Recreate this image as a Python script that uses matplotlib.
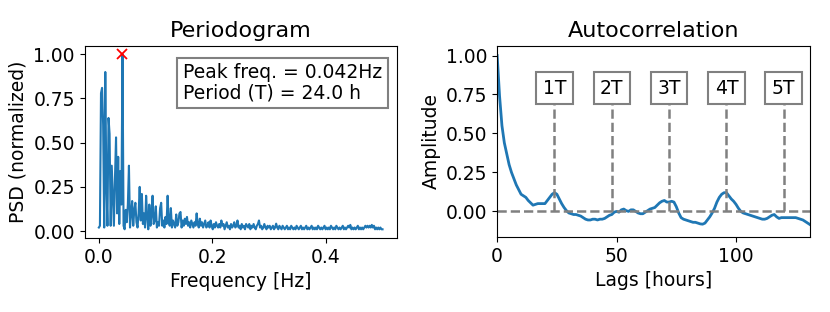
import numpy as np
import matplotlib
matplotlib.use("Agg")
import matplotlib.pyplot as plt

# periodogram: k / 528 Hz, k = 0..264 (hourly samples, 22 days)
n_samples = 528
psd_norm = [
    0.02, 0.03, 0.78, 0.81, 0.60, 0.02, 0.90, 0.25, 0.03, 0.64,
    0.55, 0.03, 0.37, 0.20, 0.03, 0.30, 0.53, 0.10, 0.42, 0.04,
    0.34, 0.15, 1.00, 0.03, 0.01, 0.12, 0.05, 0.15, 0.37, 0.02,
    0.10, 0.17, 0.03, 0.12, 0.16, 0.05, 0.02, 0.10, 0.25, 0.06,
    0.21, 0.04, 0.10, 0.02, 0.20, 0.08, 0.01, 0.15, 0.03, 0.09,
    0.20, 0.04, 0.06, 0.14, 0.02, 0.05, 0.03, 0.13, 0.16, 0.03,
    0.06, 0.02, 0.08, 0.04, 0.20, 0.05, 0.03, 0.13, 0.02, 0.06,
    0.04, 0.02, 0.094, 0.03, 0.05, 0.10, 0.108, 0.02, 0.06, 0.03,
    0.07, 0.04, 0.08, 0.03, 0.05, 0.02, 0.06, 0.04, 0.02, 0.05,
    0.03, 0.10, 0.04, 0.02, 0.07, 0.03, 0.05, 0.02, 0.04, 0.06,
    0.02, 0.03, 0.05, 0.02, 0.06, 0.03, 0.01, 0.04, 0.02, 0.05,
    0.03, 0.02, 0.04, 0.02, 0.06, 0.03, 0.04, 0.01, 0.03, 0.05,
    0.02, 0.03, 0.01, 0.04, 0.02, 0.03, 0.05, 0.02, 0.03, 0.06,
    0.02, 0.03, 0.01, 0.04, 0.02, 0.03, 0.01, 0.04, 0.03, 0.02,
    0.04, 0.01, 0.03, 0.02, 0.04, 0.02, 0.01, 0.03, 0.04, 0.06,
    0.02, 0.03, 0.01, 0.02, 0.04, 0.02, 0.01, 0.03, 0.02, 0.03,
    0.01, 0.02, 0.03, 0.01, 0.02, 0.042, 0.02, 0.01, 0.03, 0.02,
    0.01, 0.03, 0.02, 0.01, 0.02, 0.03, 0.01, 0.02, 0.01, 0.03,
    0.02, 0.01, 0.02, 0.01, 0.03, 0.02, 0.01, 0.02, 0.03, 0.01,
    0.02, 0.01, 0.02, 0.03, 0.01, 0.02, 0.01, 0.02, 0.03, 0.01,
    0.02, 0.01, 0.02, 0.01, 0.03, 0.02, 0.01, 0.02, 0.01, 0.02,
    0.03, 0.01, 0.02, 0.01, 0.02, 0.01, 0.03, 0.02, 0.01, 0.02,
    0.01, 0.03, 0.02, 0.01, 0.02, 0.01, 0.02, 0.03, 0.01, 0.02,
    0.01, 0.02, 0.03, 0.02, 0.035, 0.01, 0.02, 0.01, 0.02, 0.01,
    0.02, 0.03, 0.01, 0.02, 0.01, 0.02, 0.01, 0.02, 0.03, 0.02,
    0.03, 0.02, 0.03, 0.02, 0.035, 0.02, 0.03, 0.01, 0.02, 0.01,
    0.02, 0.01, 0.02, 0.01, 0.01,
]
freqs = np.arange(len(psd_norm)) / n_samples

peak_freq = 1 / 24
peak_val = 1.0

# autocorrelation, one value per hour of lag
acf = [
    1.00, 0.74, 0.55, 0.44, 0.37, 0.30, 0.25, 0.21, 0.17, 0.14,
    0.11, 0.10, 0.09, 0.07, 0.055, 0.04, 0.045, 0.05, 0.05, 0.05,
    0.05, 0.07, 0.09, 0.11, 0.12, 0.11, 0.08, 0.05, 0.025, 0.005,
    -0.01, -0.015, -0.02, -0.02, -0.025, -0.03, -0.04, -0.05, -0.055, -0.055,
    -0.05, -0.05, -0.055, -0.05, -0.05, -0.045, -0.035, -0.025, -0.02, -0.005,
    0.0, -0.005, 0.01, 0.015, 0.005, 0.0, 0.01, 0.01, 0.0, -0.01,
    -0.015, -0.015, -0.005, 0.005, 0.015, 0.02, 0.025, 0.04, 0.055, 0.065,
    0.07, 0.06, 0.06, 0.065, 0.06, 0.03, -0.01, -0.04, -0.05, -0.055,
    -0.06, -0.065, -0.07, -0.07, -0.075, -0.08, -0.082, -0.075, -0.055, -0.035,
    -0.01, 0.02, 0.06, 0.09, 0.11, 0.12, 0.12, 0.10, 0.08, 0.065,
    0.045, 0.02, 0.0, -0.01, -0.015, -0.02, -0.025, -0.03, -0.035, -0.04,
    -0.045, -0.05, -0.05, -0.045, -0.035, -0.025, -0.02, -0.035, -0.045, -0.04,
    -0.04, -0.04, -0.04, -0.04, -0.04, -0.04, -0.045, -0.05, -0.055, -0.065,
    -0.075, -0.085,
]
lags = np.arange(len(acf))

period_h = 24
period_labels = ["1T", "2T", "3T", "4T", "5T"]

fs = 13.5

fig = plt.figure(figsize=(8.3, 3.12), dpi=100)
ax1 = fig.add_axes([0.102, 0.237, 0.376, 0.617])
ax2 = fig.add_axes([0.599, 0.240, 0.377, 0.614])

# --- periodogram ---
ax1.plot(freqs, psd_norm, color="#1f77b4", linewidth=1.5)
ax1.plot(peak_freq, peak_val, "x", color="red", markersize=7, mew=1.3)
ax1.set_title("Periodogram", fontsize=16)
ax1.set_xlabel("Frequency [Hz]", fontsize=fs)
ax1.set_ylabel("PSD (normalized)", fontsize=fs)
ax1.set_xticks([0.0, 0.2, 0.4])
ax1.set_yticks([0.0, 0.25, 0.5, 0.75, 1.0])
ax1.tick_params(labelsize=fs)
ax1.text(0.315, 0.806, "Peak freq. = %.3fHz\nPeriod (T) = %.1f h" % (peak_freq, 1 / peak_freq),
         transform=ax1.transAxes, fontsize=fs, va="center", ha="left", linespacing=1.1,
         bbox=dict(boxstyle="square,pad=0.3", facecolor="white", edgecolor="gray", linewidth=1.5))

# --- autocorrelation ---
ax2.plot(lags, acf, color="#1f77b4", linewidth=2)
ax2.axhline(0, color="gray", linestyle="--", linewidth=1.8)
for i, lab in enumerate(period_labels):
    x = (i + 1) * period_h
    ax2.vlines(x, 0, 0.8, colors="gray", linestyles="--", linewidth=1.8)
    ax2.text(x, 0.79, lab, fontsize=fs, ha="center", va="center",
             bbox=dict(boxstyle="square,pad=0.35", facecolor="white", edgecolor="gray", linewidth=1.5))
ax2.set_xlim(0, 131)
ax2.set_ylim(-0.165, 1.064)
ax2.set_title("Autocorrelation", fontsize=16)
ax2.set_xlabel("Lags [hours]", fontsize=fs)
ax2.set_ylabel("Amplitude", fontsize=fs)
ax2.set_xticks([0, 50, 100])
ax2.set_yticks([0.0, 0.25, 0.5, 0.75, 1.0])
ax2.tick_params(labelsize=fs)

fig.savefig("out.png", dpi=100)
